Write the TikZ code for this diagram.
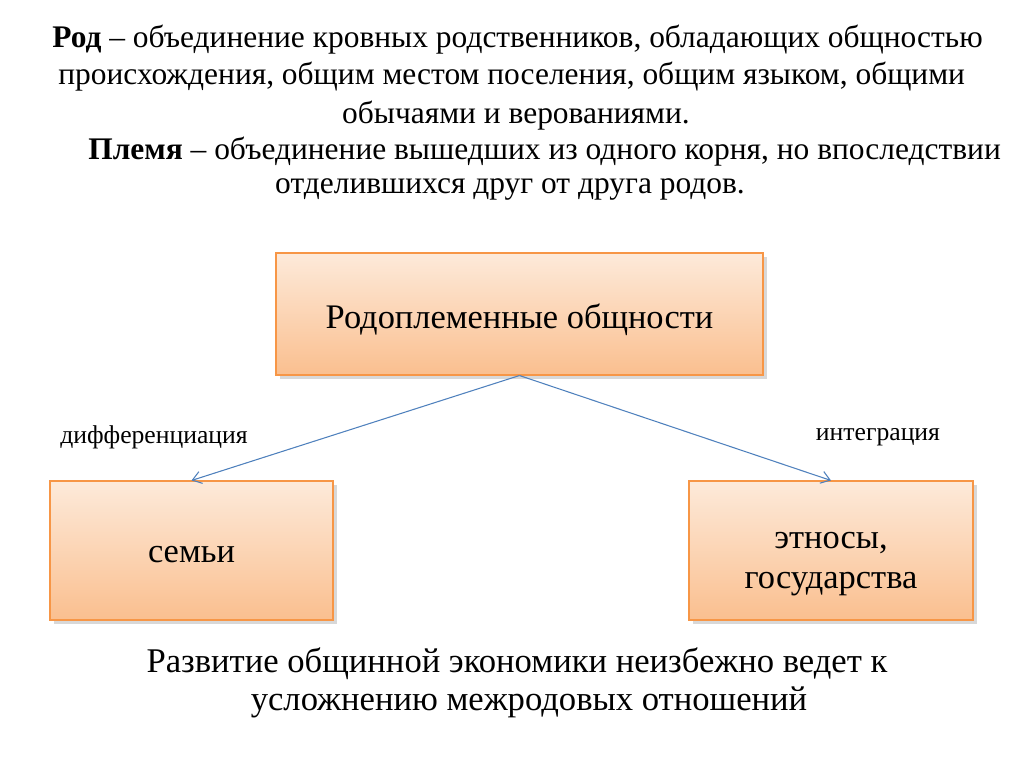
\documentclass[tikz,border=0pt]{standalone}
\usepackage{fontspec}
\setmainfont{Liberation Serif}
\usetikzlibrary{shadows,arrows.meta}
\definecolor{boxedge}{RGB}{247,150,70}
\definecolor{boxtop}{RGB}{253,234,218}
\definecolor{boxbot}{RGB}{250,191,143}
\definecolor{arrowblue}{RGB}{79,129,189}

\begin{document}
\begin{tikzpicture}[x=0.02cm,y=-0.02cm,
		box/.style={draw=boxedge,line width=0.6pt,top color=boxtop,bottom color=boxbot,
			drop shadow={shadow xshift=2pt,shadow yshift=-2pt,opacity=0.3},
			rectangle,inner sep=0pt,align=center},
		txt/.style={inner sep=0pt,font=\fontsize{17.9}{21}\selectfont},
		lbl/.style={inner sep=0pt,font=\fontsize{14.6}{17}\selectfont},
		link/.style={draw=arrowblue,line width=0.6pt,-{Straight Barb[length=5pt,width=7pt]}}]
			\useasboundingbox (0,0) rectangle (1024,767);
			\fill[white] (0,0) rectangle (1024,767);

			\node[txt,anchor=west] (l1) at (52,40) {\textbf{Род} – объединение кровных родственников, обладающих общностью};
			\node[txt,anchor=west] (l2) at (58,77) {происхождения, общим местом поселения, общим языком, общими};
			\node[txt] (l3) at (516,116) {обычаями и верованиями.};
			\node[txt,anchor=west] (l4) at (88,152) {\textbf{Племя} – объединение вышедших из одного корня, но впоследствии};
			\node[txt] (l5) at (510,189) {отделившихся друг от друга родов.};

			\node[box,minimum width=487*0.02cm,minimum height=122*0.02cm,
				font=\fontsize{19.6}{24}\selectfont] (tribe) at (519.5,314)
				{\raisebox{-8pt}[0pt][0pt]{Родоплеменные общности}};
			\node[box,minimum width=283*0.02cm,minimum height=139*0.02cm,
				font=\fontsize{19.6}{24}\selectfont] (family) at (191.5,550.5)
				{\raisebox{-7pt}[0pt][0pt]{семьи}};
			\node[box,minimum width=284*0.02cm,minimum height=139*0.02cm,
				font=\fontsize{19.6}{22.7}\selectfont] (ethnos) at (831,550.5)
				{\raisebox{1pt}[0pt][0pt]{\begin{tabular}[t]{@{}c@{}}этносы,\\государства\end{tabular}}};

			\node[lbl] (diff) at (154,437) {дифференциация};
			\node[lbl] (integ) at (878,437) {интеграция};

			\draw[link] (tribe.south) -- (family.north);
			\draw[link] (tribe.south) -- (ethnos.north);

			\node[txt,font=\fontsize{19.7}{24}\selectfont] (b1) at (517,664) {Развитие общинной экономики неизбежно ведет к};
			\node[txt,font=\fontsize{19.7}{24}\selectfont] (b2) at (529,702) {усложнению межродовых отношений};
		\end{tikzpicture}
\end{document}
